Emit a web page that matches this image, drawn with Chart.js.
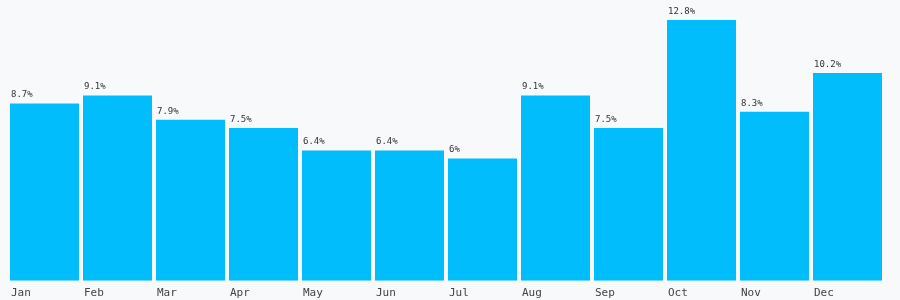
<!DOCTYPE html>
<html>
<head>
<meta charset="utf-8">
<script src="https://cdn.jsdelivr.net/npm/chart.js@4/dist/chart.umd.min.js"></script>
<style>
  html, body { margin: 0; padding: 0; background: #f8f9fb; }
  #wrap { width: 900px; height: 300px; }
</style>
</head>
<body>
<div id="wrap"><canvas id="chart"></canvas></div>
<script>
// Datos del gráfico
var months = ['Jan', 'Feb', 'Mar', 'Apr', 'May', 'Jun', 'Jul', 'Aug', 'Sep', 'Oct', 'Nov', 'Dec'];
var rates = [8.7, 9.1, 7.9, 7.5, 6.4, 6.4, 6, 9.1, 7.5, 12.8, 8.3, 10.2];

var MONO = '"DejaVu Sans Mono", "Liberation Mono", monospace';

// Etiquetas de valor encima de cada barra, alineadas a la izquierda
var valueLabels = {
    id: 'valueLabels',
    afterDatasetsDraw: function (chart) {
        var ctx = chart.ctx;
        var meta = chart.getDatasetMeta(0);
        ctx.save();
        ctx.font = '9px ' + MONO;
        ctx.fillStyle = '#333';
        ctx.textAlign = 'left';
        ctx.textBaseline = 'bottom';
        meta.data.forEach(function (bar, i) {
            ctx.fillText(rates[i] + '%', bar.x - bar.width / 2 + 1, bar.y - 4);
        });
        ctx.restore();
    }
};

new Chart(document.getElementById('chart').getContext('2d'), {
    type: 'bar',
    data: {
        labels: months,
        datasets: [{
            data: rates,
            backgroundColor: '#02bdfb',
            borderWidth: 0,
            barPercentage: 0.945,
            categoryPercentage: 1
        }]
    },
    options: {
        responsive: true,
        maintainAspectRatio: false,
        animation: false,
        layout: { padding: { left: 8, right: 16, top: 20, bottom: -5 } },
        plugins: {
            legend: { display: false },
            tooltip: { enabled: false }
        },
        scales: {
            x: {
                grid: { display: false, drawTicks: false },
                border: { display: false },
                ticks: {
                    align: 'start',
                    labelOffset: -33.5,
                    padding: 5.5,
                    color: '#444',
                    font: { family: MONO, size: 11 }
                }
            },
            y: {
                display: false,
                min: 0,
                max: Math.max.apply(null, rates)
            }
        }
    },
    plugins: [valueLabels]
});
</script>
</body>
</html>
